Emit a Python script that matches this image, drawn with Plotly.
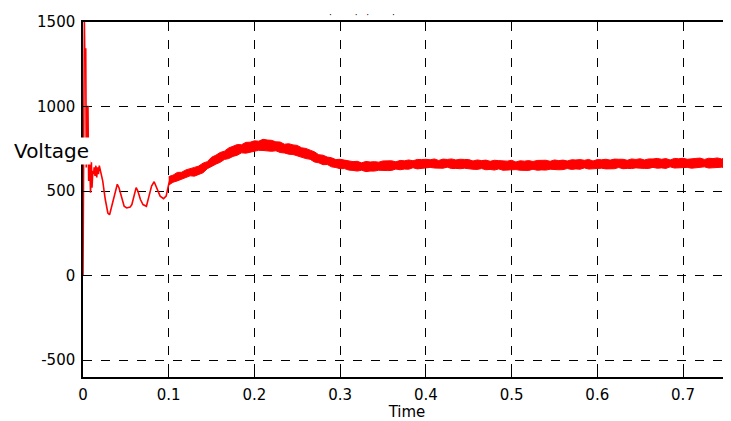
import plotly.graph_objects as go

# Early transient (thin line), time [s] and voltage
t_start = [0, 0.0008, 0.0016, 0.002, 0.0032, 0.0038, 0.0048, 0.0058, 0.0066, 0.0076, 0.0088,
           0.0098, 0.0105, 0.0115, 0.0125, 0.013, 0.014, 0.015, 0.016, 0.017, 0.018, 0.019,
           0.021, 0.023, 0.026, 0.029, 0.031, 0.034, 0.037, 0.040, 0.042, 0.045, 0.048,
           0.051, 0.055, 0.057, 0.060, 0.062, 0.064, 0.067, 0.070, 0.074, 0.077, 0.080,
           0.083, 0.086, 0.090, 0.094, 0.097, 0.100, 0.103]
v_start = [0, 1500, 1500, 1340, 1340, 640, 1000, 1000, 560, 680, 490,
           670, 520, 620, 600, 640, 590, 650, 580, 640, 600, 650,
           610, 560, 450, 370, 360, 420, 480, 540, 520, 460, 410,
           400, 405, 420, 490, 520, 500, 450, 420, 410, 470, 530,
           555, 520, 470, 455, 470, 540, 590]

# Noisy band: upper and lower envelopes
t_band = [0.100, 0.105, 0.110, 0.115, 0.120, 0.125, 0.130, 0.135, 0.140, 0.145,
          0.150, 0.155, 0.160, 0.165, 0.170, 0.175, 0.180, 0.185, 0.190, 0.195,
          0.200, 0.205, 0.210, 0.215, 0.220, 0.225, 0.230, 0.235, 0.240, 0.245,
          0.250, 0.255, 0.260, 0.265, 0.270, 0.275, 0.280, 0.285, 0.290, 0.295,
          0.300, 0.305, 0.310, 0.315, 0.320, 0.325, 0.330, 0.335, 0.340, 0.345,
          0.350, 0.355, 0.360, 0.365, 0.370, 0.375, 0.380, 0.385, 0.390, 0.395,
          0.400, 0.405, 0.410, 0.415, 0.420, 0.425, 0.430, 0.435, 0.440, 0.445,
          0.450, 0.455, 0.460, 0.465, 0.470, 0.475, 0.480, 0.485, 0.490, 0.495,
          0.500, 0.505, 0.510, 0.515, 0.520, 0.525, 0.530, 0.535, 0.540, 0.545,
          0.550, 0.555, 0.560, 0.565, 0.570, 0.575, 0.580, 0.585, 0.590, 0.595,
          0.600, 0.605, 0.610, 0.615, 0.620, 0.625, 0.630, 0.635, 0.640, 0.645,
          0.650, 0.655, 0.660, 0.665, 0.670, 0.675, 0.680, 0.685, 0.690, 0.695,
          0.700, 0.705, 0.710, 0.715, 0.720, 0.725, 0.730, 0.735, 0.740, 0.745,
          0.750, 0.756]
v_upper = [585, 594, 610, 611, 625, 631, 640, 648, 665, 674,
           700, 712, 728, 736, 755, 765, 775, 774, 788, 789,
           797, 795, 806, 802, 800, 791, 790, 777, 780, 773,
           770, 756, 752, 742, 732, 715, 712, 701, 697, 686,
           688, 683, 680, 674, 676, 667, 675, 672, 674, 671,
           678, 678, 679, 673, 681, 679, 684, 679, 687, 686,
           688, 685, 690, 681, 689, 687, 690, 684, 688, 687,
           686, 678, 684, 680, 683, 676, 682, 680, 680, 677,
           682, 672, 679, 677, 680, 675, 681, 681, 682, 676,
           684, 680, 683, 678, 685, 684, 686, 682, 687, 678,
           686, 685, 688, 683, 689, 688, 688, 682, 690, 687,
           691, 684, 690, 690, 693, 688, 692, 684, 693, 691,
           694, 688, 692, 693, 695, 687, 694, 692, 696, 690,
           697, 696]
v_lower = [535, 552, 560, 570, 578, 590, 588, 600, 608, 632,
           648, 659, 670, 687, 692, 705, 712, 726, 724, 730,
           733, 741, 740, 738, 735, 738, 728, 725, 718, 716,
           707, 699, 692, 688, 672, 667, 656, 657, 643, 639,
           632, 633, 624, 622, 618, 623, 615, 618, 618, 623,
           620, 621, 622, 630, 626, 630, 629, 638, 631, 634,
           634, 640, 636, 636, 635, 641, 633, 634, 632, 635,
           630, 629, 628, 633, 626, 628, 624, 631, 623, 624,
           622, 627, 623, 623, 622, 629, 623, 625, 624, 629,
           626, 626, 627, 633, 628, 631, 629, 637, 630, 632,
           630, 635, 631, 632, 632, 639, 632, 634, 633, 637,
           634, 634, 634, 640, 635, 637, 634, 643, 636, 638,
           636, 640, 635, 637, 637, 643, 636, 638, 637, 641,
           638, 637]

x_ticks = [0, 0.1, 0.2, 0.3, 0.4, 0.5, 0.6, 0.7]
y_ticks = [-500, 0, 500, 1000, 1500]

RED = "#ff0000"
fig = go.Figure()
fig.add_trace(go.Scatter(x=t_band, y=v_upper, mode="lines",
                         line=dict(color=RED, width=1), showlegend=False))
fig.add_trace(go.Scatter(x=t_band, y=v_lower, mode="lines", fill="tonexty",
                         fillcolor=RED, line=dict(color=RED, width=1), showlegend=False))
fig.add_trace(go.Scatter(x=t_start, y=v_start, mode="lines",
                         line=dict(color=RED, width=1.6), showlegend=False))

font = "DejaVu Sans"
fig.update_layout(
    width=723, height=413,
    margin=dict(l=75, r=0, t=14, b=44),
    paper_bgcolor="white", plot_bgcolor="white",
    font=dict(family=font, color="black", size=15),
    xaxis=dict(range=[0, 0.756], tickvals=x_ticks, ticktext=[str(v) for v in x_ticks],
               showgrid=True, gridcolor="black", griddash="dash", gridwidth=1,
               showline=True, linecolor="black", linewidth=1.5, mirror="ticks",
               ticks="inside", ticklen=5, tickcolor="black", zeroline=False,
               ticklabelstandoff=3,
               title=dict(text="Time", font=dict(size=15), standoff=8),
               tickfont=dict(size=15)),
    yaxis=dict(range=[-600, 1500], tickvals=y_ticks, ticktext=[str(v) for v in y_ticks],
               showgrid=True, gridcolor="black", griddash="dash", gridwidth=1,
               showline=True, linecolor="black", linewidth=1.5, mirror=False,
               ticks="inside", ticklen=5, tickcolor="black", zeroline=False,
               ticklabelstandoff=3,
               tickfont=dict(size=15)),
    annotations=[
        dict(text="Voltage", xref="paper", yref="paper", x=-0.1096, y=0.637,
             xanchor="left", yanchor="middle", showarrow=False,
             font=dict(size=20, family=font), bgcolor="white", borderpad=1),
        dict(text="\u00b7        \u00b7   \u00b7        \u00b7", xref="paper", yref="paper",
             x=0.43, y=1.02, xanchor="center", yanchor="middle", showarrow=False,
             font=dict(size=9)),
    ],
)

fig.write_html("out.html")
